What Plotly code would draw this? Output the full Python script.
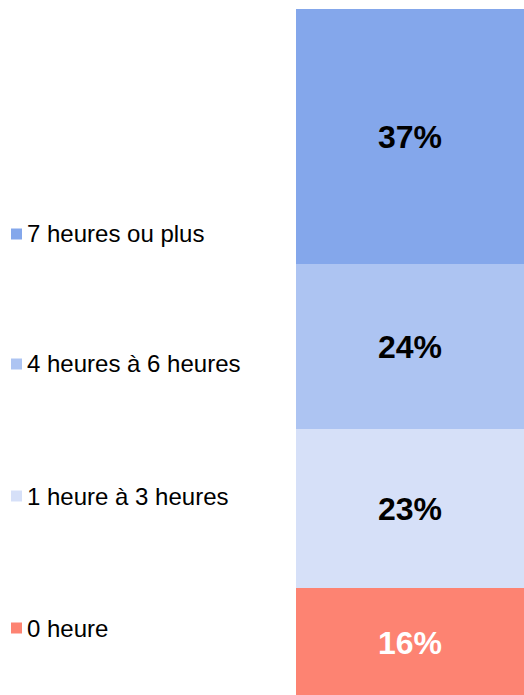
import plotly.graph_objects as go

categories = ["0 heure", "1 heure à 3 heures", "4 heures à 6 heures", "7 heures ou plus"]
values = [16, 23, 24, 37]
colors = ["#FD8372", "#D6E0F8", "#ADC4F2", "#84A7EB"]
text_colors = ["#FFFFFF", "#000000", "#000000", "#000000"]

W, H = 524, 695
TOP = 9
fig = go.Figure()
for cat, v, c, tc in zip(categories, values, colors, text_colors):
    fig.add_trace(go.Bar(
        x=[""], y=[v], name=cat, marker=dict(color=c, line=dict(width=0)),
        text=[f"{v}%"], textposition="inside", insidetextanchor="middle",
        textfont=dict(family="Liberation Sans, Arial", size=32, color=tc),
        texttemplate="<b>%{text}</b>", showlegend=False, hoverinfo="skip",
    ))

# custom legend (left side)
legend_y_px = [628, 496, 364, 234]
for cat, c, ypx in zip(categories, colors, legend_y_px):
    fig.add_shape(type="rect", xref="paper", yref="paper",
                  x0=11 / W, x1=22 / W,
                  y0=(H - ypx - 5.5) / (H - TOP), y1=(H - ypx + 5.5) / (H - TOP),
                  fillcolor=c, line=dict(width=0))
    fig.add_annotation(text=cat, xref="paper", yref="paper",
                       x=25 / W, y=(H - ypx) / (H - TOP), xanchor="left", yanchor="middle",
                       showarrow=False,
                       font=dict(family="Liberation Sans, Arial", size=24, color="#000000"))

fig.update_layout(
    barmode="stack", bargap=0,
    width=W, height=H,
    margin=dict(l=0, r=0, t=TOP, b=0),
    paper_bgcolor="white", plot_bgcolor="white",
    xaxis=dict(domain=[296 / W, 1], visible=False),
    yaxis=dict(range=[0.45, 100], visible=False),
    uniformtext=dict(minsize=8, mode="show"),
)

fig.write_html("out.html", config={"displayModeBar": False},
               post_script="document.body.style.margin='0';document.body.style.overflow='hidden';")
